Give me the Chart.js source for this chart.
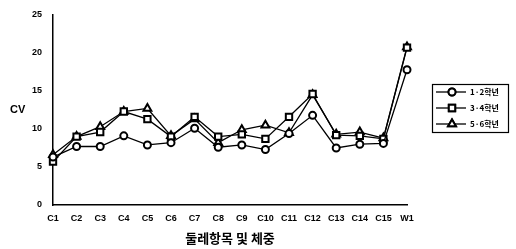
<!DOCTYPE html>
<html>
<head>
<meta charset="utf-8">
<script src="https://cdn.jsdelivr.net/npm/chart.js@4/dist/chart.umd.min.js"></script>
<style>
html,body{margin:0;padding:0;background:#fff;}
#wrap{width:516px;height:249px;}
</style>
</head>
<body>
<div id="wrap"><canvas id="c" width="516" height="249"></canvas></div>
<script>
const categories = ['C1','C2','C3','C4','C5','C6','C7','C8','C9','C10','C11','C12','C13','C14','C15','W1'];
const seriesNames = ['1·2학년','3·4학년','5·6학년'];
const grade12 = [6.3, 7.7, 7.7, 9.1, 7.9, 8.2, 10.1, 7.6, 7.9, 7.3, 9.4, 11.8, 7.5, 8.0, 8.1, 17.8];
const grade34 = [5.7, 9.0, 9.6, 12.3, 11.3, 9.0, 11.6, 9.0, 9.3, 8.7, 11.6, 14.6, 9.2, 9.1, 8.7, 20.7];
const grade56 = [6.6, 9.0, 10.3, 12.3, 12.7, 9.1, 11.3, 8.2, 9.9, 10.5, 9.5, 14.5, 9.3, 9.6, 8.8, 20.8];
const yTicks = [0, 5, 10, 15, 20, 25];
const xTitle = '둘레항목 및 체중';
const yTitle = 'CV';

const FONT = "'Liberation Sans', 'Noto Sans CJK KR', sans-serif";
const KFONT = "'Noto Sans CJK KR', 'Liberation Sans', sans-serif";
const styles = ['circle','rect','triangle'];
const radii = [3.5, 4.5, 4.5];

const datasets = [grade12, grade34, grade56].map((d, i) => ({
  label: seriesNames[i],
  data: d,
  borderColor: '#000',
  borderWidth: 1.3,
  pointStyle: styles[i],
  pointRadius: radii[i],
  pointBorderWidth: 2,
  pointBackgroundColor: '#fff',
  pointBorderColor: '#000',
  tension: 0,
  fill: false
}));

const extras = {
  id: 'extras',
  afterDraw(chart) {
    const ctx = chart.ctx;
    ctx.save();
    ctx.fillStyle = '#000';
    ctx.font = "bold 11px " + FONT;
    ctx.textAlign = 'left';
    ctx.textBaseline = 'middle';
    ctx.fillText(yTitle, 10, 110);
    ctx.strokeStyle = '#000';
    ctx.lineWidth = 1.2;
    ctx.strokeRect(432.5, 84.5, 76, 48);
    const rows = [92, 108, 124];
    datasets.forEach((ds, i) => {
      const y = rows[i];
      ctx.beginPath();
      ctx.lineWidth = 1.3;
      ctx.moveTo(436, y); ctx.lineTo(466, y);
      ctx.stroke();
      ctx.lineWidth = 2;
      ctx.fillStyle = '#fff';
      Chart.helpers.drawPoint(ctx, {pointStyle: ds.pointStyle, radius: ds.pointRadius, borderWidth: 2}, 452, y);
      ctx.fill();
      ctx.stroke();
      ctx.fillStyle = '#000';
      ctx.font = "bold 8px " + KFONT;
      ctx.textAlign = 'left';
      ctx.textBaseline = 'middle';
      ctx.fillText(ds.label, 470, y);
    });
    ctx.restore();
  }
};

new Chart(document.getElementById('c'), {
  type: 'line',
  data: { labels: categories, datasets: datasets },
  options: {
    responsive: false,
    animation: false,
    devicePixelRatio: 1,
    layout: { padding: { left: 0, right: 109, top: 15, bottom: 3 } },
    plugins: { legend: { display: false }, tooltip: { enabled: false } },
    scales: {
      x: {
        type: 'category',
        offset: false,
        grid: { display: false, drawTicks: true, tickLength: 3 },
        border: { display: true, color: '#000', width: 1.5 },
        ticks: { color: '#000', font: { family: FONT, size: 9, weight: 'bold' }, maxRotation: 0, autoSkip: false, padding: 5 },
        title: { display: true, text: xTitle, color: '#000', font: { family: KFONT, size: 13, weight: 'bold' }, padding: { top: 2, bottom: 0 } },
        afterFit(s) { s.height = 41; }
      },
      y: {
        min: 0, max: 25,
        afterBuildTicks(s) { s.ticks = yTicks.map(v => ({ value: v })); },
        grid: { display: false, drawTicks: true, tickLength: 3 },
        border: { display: true, color: '#000', width: 1.5 },
        ticks: { color: '#000', font: { family: FONT, size: 9, weight: 'bold' }, padding: 8 },
        afterFit(s) { s.width = 53; }
      }
    }
  },
  plugins: [extras]
});
</script>
</body>
</html>
